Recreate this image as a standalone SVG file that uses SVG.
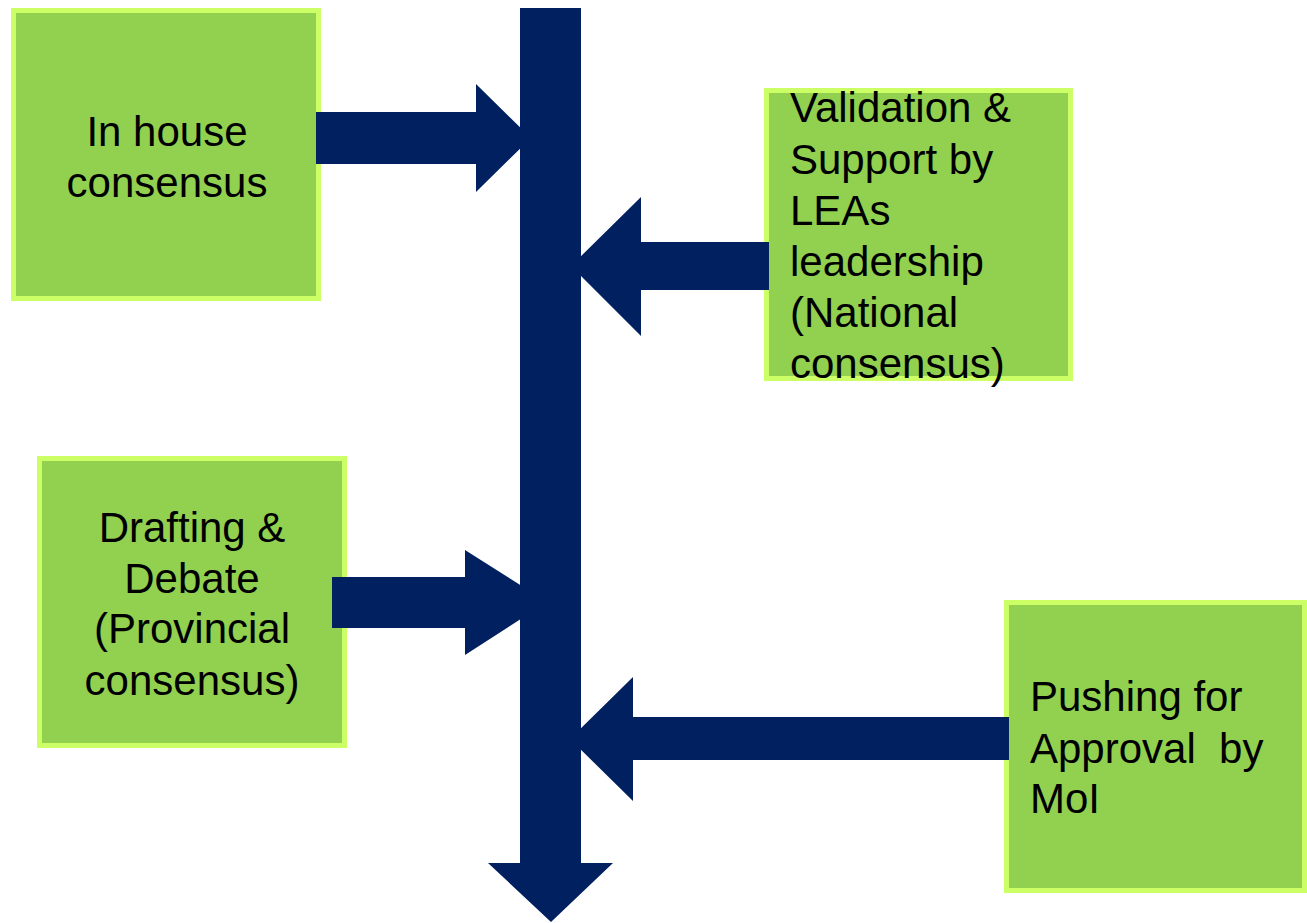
<svg xmlns="http://www.w3.org/2000/svg" width="1307" height="923" viewBox="0 0 1307 923">
<style>
.box{fill:#92D050;stroke:#CCFF66;stroke-width:5}
.t{font-family:"Liberation Sans",Arial,sans-serif;font-size:42px;fill:#000}
.c{text-anchor:middle}
.ar{fill:#002060}
</style>
<rect width="1307" height="923" fill="#fff"/>
<g id="node-inhouse">
<rect class="box" x="13.5" y="10.5" width="305" height="288"/>
<text class="t c" x="167" y="146">In house</text>
<text class="t c" x="167" y="197">consensus</text>
</g>
<g id="node-validation">
<rect class="box" x="766.5" y="90.5" width="304" height="288"/>
<text class="t" x="790" y="122">Validation &amp;</text>
<text class="t" x="790" y="173.5">Support by</text>
<text class="t" x="790" y="225">LEAs</text>
<text class="t" x="790" y="276">leadership</text>
<text class="t" x="790" y="327">(National</text>
<text class="t" x="790" y="378">consensus)</text>
</g>
<g id="node-drafting">
<rect class="box" x="39.5" y="458.5" width="305" height="287"/>
<text class="t c" x="192" y="542">Drafting &amp;</text>
<text class="t c" x="192" y="593">Debate</text>
<text class="t c" x="192" y="643">(Provincial</text>
<text class="t c" x="192" y="695">consensus)</text>
</g>
<g id="node-pushing">
<rect class="box" x="1006.5" y="602.5" width="298" height="288"/>
<text class="t" x="1030" y="711">Pushing for</text>
<text class="t" x="1030" y="763" style="white-space:pre" xml:space="preserve">Approval  by</text>
<text class="t" x="1030" y="813">MoI</text>
</g>
<g id="connectors">
<path class="ar" d="M520,8 H581 V863 H613 L551,922 L488,863 H520 Z"/>
<path class="ar" d="M316,112 H476 V84 L531,138 L476,192 V164 H316 Z"/>
<path class="ar" d="M769,242 H641 V197 L571,266 L641,336 V290 H769 Z"/>
<path class="ar" d="M332,577 H465 V550 L547,602 L465,655 V628 H332 Z"/>
<path class="ar" d="M1009,717 H633 V677 L570,739 L633,801 V760 H1009 Z"/>
</g>
</svg>
